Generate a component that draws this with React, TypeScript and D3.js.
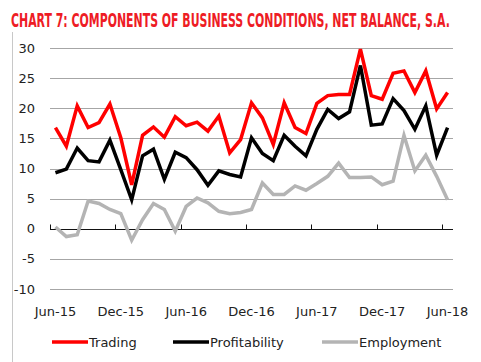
import { useEffect, useRef } from 'react'
import * as d3 from 'd3'

const W = 481
const H = 362
const M = { top: 48, right: 28, bottom: 73, left: 50 }

// Monthly, Jun-15 .. Jun-18
const months = d3.timeMonths(new Date(2015, 5, 1), new Date(2018, 6, 1))
const trading = [16.8, 13.7, 20.4, 16.8, 17.6, 20.7, 15.1, 7.3, 15.5, 16.9, 15.2, 18.6, 17.1, 17.7, 16.2, 18.7, 12.6, 14.8, 20.9, 18.4, 14.0, 20.9, 16.8, 15.8, 20.8, 22.1, 22.3, 22.3, 29.8, 22.1, 21.5, 25.8, 26.2, 22.6, 26.2, 19.9, 22.6]
const profitability = [9.3, 9.9, 13.4, 11.3, 11.1, 14.7, 9.8, 4.8, 12.1, 13.2, 8.2, 12.7, 11.8, 9.8, 7.2, 9.6, 9.0, 8.6, 15.1, 12.5, 11.3, 15.5, 13.7, 12.1, 16.5, 19.8, 18.3, 19.4, 27.1, 17.2, 17.4, 21.6, 19.6, 16.5, 20.4, 12.2, 16.8]
const employment = [0.3, -1.3, -1.0, 4.6, 4.2, 3.2, 2.5, -1.9, 1.5, 4.2, 3.2, -0.4, 3.7, 5.1, 4.3, 2.9, 2.5, 2.7, 3.2, 7.6, 5.7, 5.7, 7.1, 6.4, 7.5, 8.7, 10.9, 8.5, 8.5, 8.6, 7.3, 7.9, 15.5, 9.6, 12.2, 8.7, 4.8]
const yTicks = [-10, -5, 0, 5, 10, 15, 20, 25, 30]

const series = [
  { name: 'Trading', values: trading, col: '#ff0000' },
  { name: 'Profitability', values: profitability, col: '#000000' },
  { name: 'Employment', values: employment, col: '#b4b4b4' },
]

const FONT = '"DejaVu Sans", Verdana, sans-serif'

export default function App() {
  const svgRef = useRef<SVGSVGElement>(null)

  useEffect(() => {
    if (!svgRef.current) return
    const svg = d3.select(svgRef.current)
    svg.selectAll('*').remove()

    const iw = W - M.left - M.right
    const ih = H - M.top - M.bottom
    const fmt = d3.timeFormat('%b-%y')
    const labels = months.map(d => fmt(d))

    const x = d3.scaleBand().domain(labels).range([0, iw])
    const y = d3.scaleLinear().domain([-10, 30]).range([ih, 0])

    svg.append('rect').attr('width', W).attr('height', H).attr('fill', '#fff')

    // left frame line
    svg.append('line').attr('x1', 12.5).attr('x2', 12.5).attr('y1', 32).attr('y2', H)
      .attr('stroke', '#c8c8c8').attr('stroke-width', 1)

    // title, squeezed horizontally to the condensed look of the original
    const title = svg.append('text').attr('x', 0).attr('y', 0)
      .attr('fill', '#ee1c25').attr('font-family', '"DejaVu Sans Condensed", "Liberation Sans Narrow", sans-serif')
      .attr('font-weight', 'bold').attr('font-size', 19)
      .text('CHART 7: COMPONENTS OF BUSINESS CONDITIONS, NET BALANCE, S.A.')
    const len = (title.node() as SVGTextElement).getComputedTextLength() || 439
    title.attr('transform', `translate(11,27) scale(${439 / len},1)`)

    const g = svg.append('g').attr('transform', `translate(${M.left},${M.top})`)

    // grid
    g.selectAll('.gy').data(yTicks.filter(t => t !== 0)).join('line')
      .attr('x1', 0).attr('x2', iw)
      .attr('y1', d => Math.round(y(d)) + 0.5).attr('y2', d => Math.round(y(d)) + 0.5)
      .attr('stroke', '#a6a6a6').attr('stroke-width', 1)

    // y labels
    g.selectAll('.yl').data(yTicks).join('text')
      .attr('x', -15).attr('y', d => y(d) + 4.5)
      .attr('text-anchor', 'end').attr('font-family', FONT).attr('font-size', 13)
      .attr('fill', '#222').text(d => d)

    // zero axis + ticks every 6 months
    const y0 = Math.round(y(0)) + 0.5
    g.append('line').attr('x1', 0).attr('x2', iw).attr('y1', y0).attr('y2', y0)
      .attr('stroke', '#111').attr('stroke-width', 1)
    const tickCats = labels.filter((_, i) => i % 6 === 0)
    g.selectAll('.tk').data(tickCats).join('line')
      .attr('x1', d => Math.round(x(d)!) + 0.5).attr('x2', d => Math.round(x(d)!) + 0.5)
      .attr('y1', y0 - 5).attr('y2', y0)
      .attr('stroke', '#111').attr('stroke-width', 1)

    // x labels
    g.selectAll('.xl').data(tickCats).join('text')
      .attr('x', d => x(d)! + x.bandwidth() / 2).attr('y', ih + 27)
      .attr('text-anchor', 'middle').attr('font-family', FONT).attr('font-size', 13)
      .attr('fill', '#222').text(d => d)

    // lines, drawn back to front
    const line = d3.line<number>()
      .x((_, i) => x(labels[i])! + x.bandwidth() / 2)
      .y(d => y(d))
    ;[...series].reverse().forEach(s => {
      g.append('path').datum(s.values).attr('d', line)
        .attr('fill', 'none').attr('stroke', s.col).attr('stroke-width', 3.5)
        .attr('stroke-linejoin', 'miter')
    })

    // legend
    const legX = [52, 173, 322]
    const legY = 342
    series.forEach((s, i) => {
      svg.append('line').attr('x1', legX[i]).attr('x2', legX[i] + 36)
        .attr('y1', legY).attr('y2', legY)
        .attr('stroke', s.col).attr('stroke-width', 3.5)
      svg.append('text').attr('x', legX[i] + 37).attr('y', legY + 5)
        .attr('font-family', FONT).attr('font-size', 13).attr('fill', '#222')
        .text(s.name)
    })
  }, [])

  return (
    <svg ref={svgRef} width={W} height={H}
      style={{ position: 'absolute', left: 0, top: 0, display: 'block' }} />
  )
}
